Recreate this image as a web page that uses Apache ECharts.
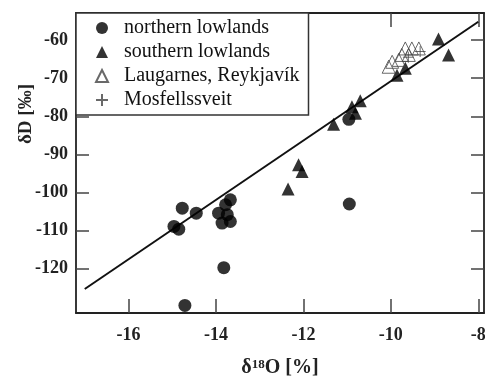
<!DOCTYPE html>
<html>
<head>
<meta charset="utf-8">
<script src="https://cdn.jsdelivr.net/npm/echarts@6/dist/echarts.min.js"></script>
<style>
html,body{margin:0;padding:0;background:#fff;}
#chart{width:485px;height:376px;}
</style>
</head>
<body>
<div id="chart"></div>
<script>
const xTicks = [-16, -14, -12, -10, -8];
const yTicks = [-120, -110, -100, -90, -80, -70, -60];

const northernLowlands = [
  [-14.71, -129.6], [-14.77, -104.1], [-14.45, -105.4], [-14.96, -108.9],
  [-14.85, -109.6], [-13.67, -101.9], [-13.78, -103.2], [-13.94, -105.4],
  [-13.74, -105.8], [-13.67, -107.6], [-13.86, -108.0], [-13.82, -119.7],
  [-10.95, -103.0], [-10.96, -80.8]
];
const southernLowlands = [
  [-12.11, -92.7], [-12.03, -94.5], [-12.35, -99.1], [-8.91, -59.7],
  [-8.68, -63.9], [-9.67, -67.4], [-9.86, -69.2], [-10.70, -75.9],
  [-10.89, -77.5], [-10.81, -79.2], [-11.31, -82.1]
];
const laugarnes = [
  [-9.97, -65.7], [-9.67, -62.2], [-9.52, -62.2], [-9.36, -62.2],
  [-9.75, -63.9], [-9.59, -63.9], [-10.05, -67.0], [-9.82, -65.2]
];
const mosfellssveit = [
  [-9.33, -63.0], [-9.60, -64.5]
];
const regressionLine = [[-17.0, -125.3], [-8.0, -55.2]];

const seriesNames = ['northern lowlands', 'southern lowlands', 'Laugarnes, Reykjavík', 'Mosfellssveit'];

const serif = '"Liberation Serif", "DejaVu Serif", serif';
const axisLineStyle = { color: '#222', width: 1.8 };
const tickStyle = { color: '#444', width: 1.5 };

const chart = echarts.init(document.getElementById('chart'), null, { renderer: 'canvas' });

const plusPath = 'path://M5,0 L5,10 M0,5 L10,5';

chart.setOption({
  animation: false,
  backgroundColor: '#fff',
  grid: { left: 76, right: 1, top: 13, bottom: 63, containLabel: false, outerBoundsMode: 'none' },
  legend: {
    data: seriesNames,
    orient: 'vertical',
    left: 76,
    top: 13,
    padding: [5, 9, 5, 19],
    itemGap: 4,
    itemWidth: 12,
    itemHeight: 12,
    backgroundColor: '#fff',
    borderColor: '#333',
    borderWidth: 1.5,
    borderRadius: 0,
    selectedMode: false,
    textStyle: { fontFamily: serif, fontSize: 20, color: '#111', lineHeight: 20, padding: [0, 0, 0, 11] }
  },
  xAxis: [
    {
      type: 'value', min: -17.2, max: -7.87, position: 'bottom',
      axisLine: { show: true, onZero: false, lineStyle: axisLineStyle },
      axisTick: { show: true, inside: true, length: 14, lineStyle: tickStyle, customValues: xTicks },
      axisLabel: { customValues: xTicks, margin: 13, fontFamily: serif, fontWeight: 'bold', fontSize: 18, color: '#222' },
      splitLine: { show: false },
      name: '{a|δ}{b|18}{a|O [%]}',
      nameLocation: 'middle',
      nameGap: 45,
      nameTextStyle: {
        rich: {
          a: { fontFamily: serif, fontWeight: 'bold', fontSize: 20, color: '#222' },
          b: { fontFamily: serif, fontWeight: 'bold', fontSize: 13, color: '#222', verticalAlign: 'top', padding: [0, 0, 7, 0] }
        }
      }
    },
    {
      type: 'value', min: -17.2, max: -7.87, position: 'top',
      axisLine: { show: true, onZero: false, lineStyle: axisLineStyle },
      axisTick: { show: true, inside: true, length: 14, lineStyle: tickStyle, customValues: xTicks },
      axisLabel: { show: false },
      splitLine: { show: false }
    }
  ],
  yAxis: [
    {
      type: 'value', min: -131.6, max: -52.9, position: 'left',
      axisLine: { show: true, onZero: false, lineStyle: axisLineStyle },
      axisTick: { show: true, inside: true, length: 13, lineStyle: tickStyle, customValues: yTicks },
      axisLabel: { customValues: yTicks, margin: 8, fontFamily: serif, fontWeight: 'bold', fontSize: 18, color: '#222' },
      splitLine: { show: false },
      name: 'δD [‰]',
      nameLocation: 'middle',
      nameGap: 40,
      nameMoveOverlap: false,
      nameRotate: 90,
      nameTextStyle: { fontFamily: serif, fontWeight: 'bold', fontSize: 19, color: '#222', padding: [0, 0, 0, 98] }
    },
    {
      type: 'value', min: -131.6, max: -52.9, position: 'right',
      axisLine: { show: true, onZero: false, lineStyle: axisLineStyle },
      axisTick: { show: true, inside: true, length: 13, lineStyle: tickStyle, customValues: yTicks },
      axisLabel: { show: false },
      splitLine: { show: false }
    }
  ],
  series: [
    {
      name: 'regression', type: 'line', data: regressionLine, symbol: 'none',
      lineStyle: { color: '#111', width: 2 }, silent: true, z: 1
    },
    {
      name: seriesNames[0], type: 'scatter', data: northernLowlands, symbol: 'circle', symbolSize: 13,
      itemStyle: { color: '#000' }, z: 3
    },
    {
      name: seriesNames[1], type: 'scatter', data: southernLowlands, symbol: 'triangle', symbolSize: 13,
      itemStyle: { color: '#000' }, z: 3
    },
    {
      name: seriesNames[2], type: 'scatter', data: laugarnes, symbol: 'triangle', symbolSize: 13,
      itemStyle: { color: 'rgba(0,0,0,0)', borderColor: '#444', borderWidth: 1 }, z: 3
    },
    {
      name: seriesNames[3], type: 'scatter', data: mosfellssveit, symbol: plusPath, symbolSize: 11,
      itemStyle: { color: 'rgba(0,0,0,0)', borderColor: '#444', borderWidth: 1 }, z: 3
    }
  ]
});
</script>
</body>
</html>
